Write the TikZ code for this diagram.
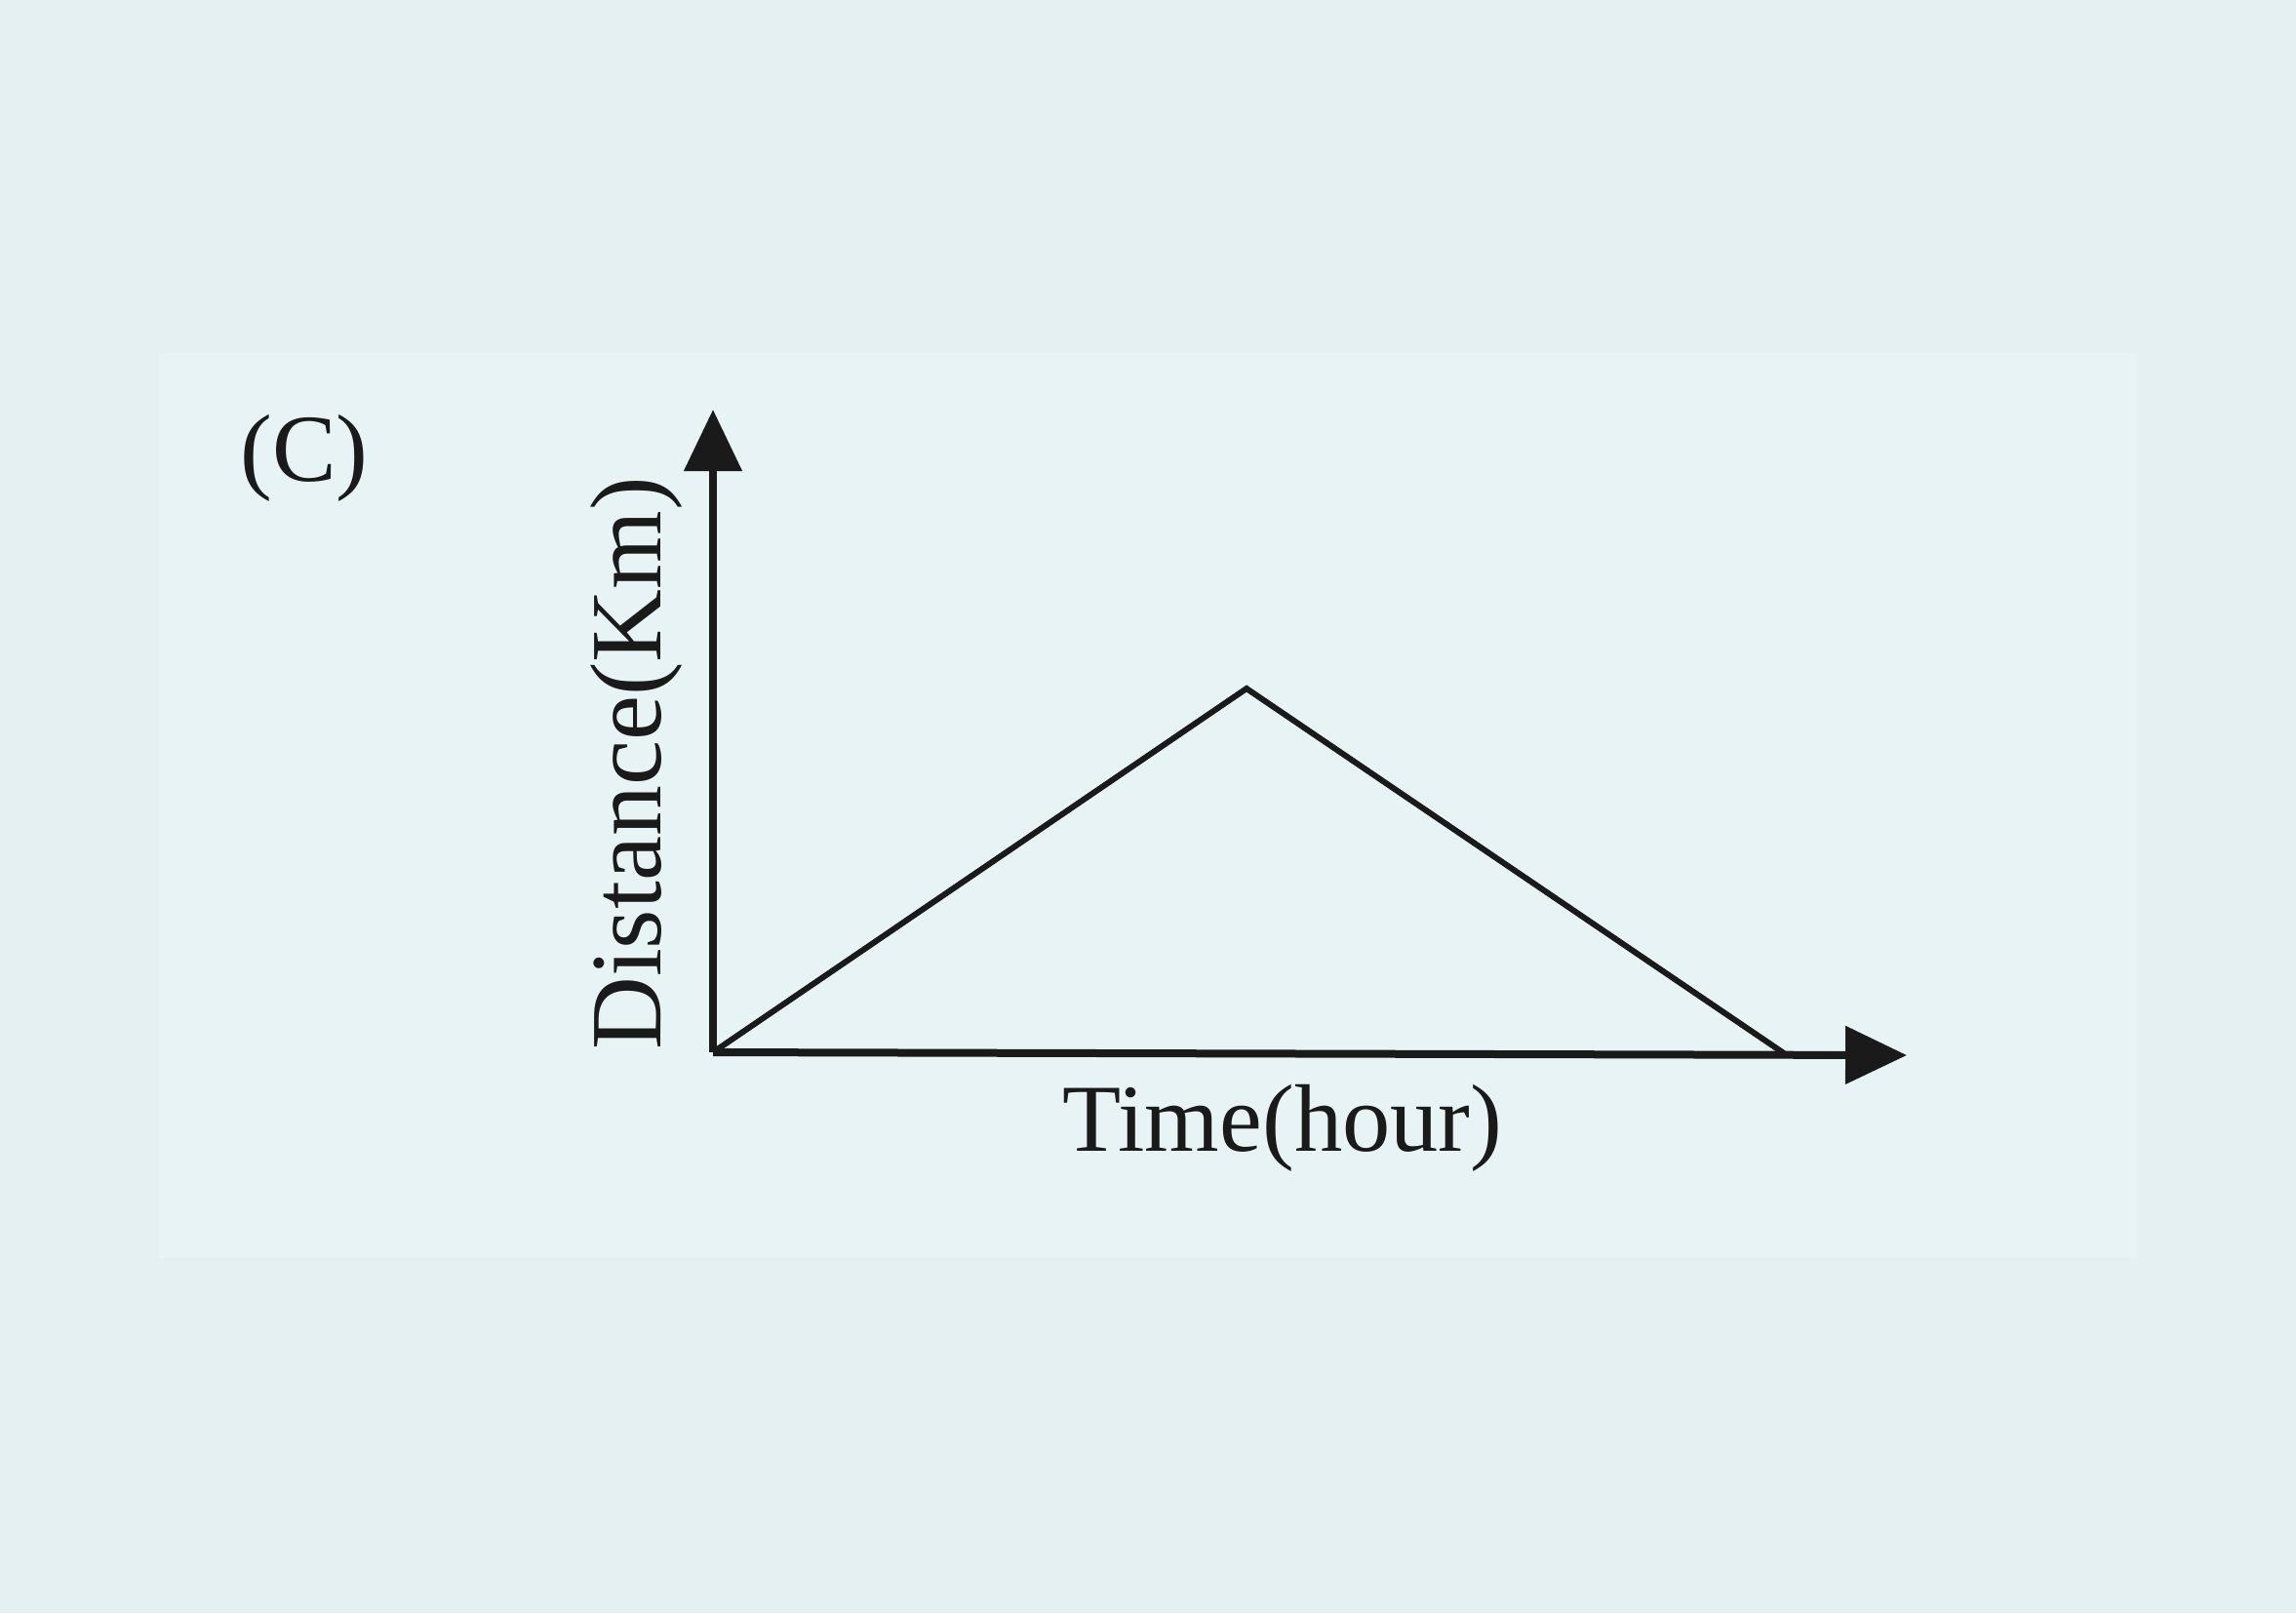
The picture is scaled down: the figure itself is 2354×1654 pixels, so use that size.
\documentclass[tikz,border=0pt]{standalone}
\usepackage{fontspec}
\setmainfont{Liberation Serif}
\usetikzlibrary{arrows.meta}
\definecolor{bgout}{HTML}{E4F0F1}
\definecolor{bgin}{HTML}{E8F3F5}
\definecolor{ink}{HTML}{1A1A1A}
\tikzset{
  axis/.style={draw=ink, line width=0.8mm, -{Triangle[length=6.3mm,width=5.8mm]}},
  graphline/.style={draw=ink, line width=0.6mm, line join=miter},
  lbl/.style={font=\fontsize{28}{32}\selectfont, text=ink, inner sep=0pt}
}
\begin{document}
\begin{tikzpicture}[x=0.1mm,y=-0.1mm]
\fill[bgout] (0,0) rectangle (2354,1654);
\useasboundingbox (0,0) rectangle (2354,1654);
\fill[bgin] (163,362) rectangle (2191,1290);
\coordinate (O) at (731,1079);
\coordinate (ytip) at (731,420);
\coordinate (xtip) at (1955,1082);
\coordinate (peak) at (1278,706);
\coordinate (end) at (1829,1080);
\draw[axis] (O) -- (ytip);
\draw[axis] (O) -- (xtip);
\draw[graphline] (O) -- (peak) -- (end);
\node[lbl] (c) at (312,470) {(C)};
\node[lbl] (tl) at (1315,1157) {Time(hour)};
\node[lbl, font=\fontsize{29.5}{33}\selectfont, rotate=90] (dl) at (653,783) {Distance(Km)};
\end{tikzpicture}
\end{document}
